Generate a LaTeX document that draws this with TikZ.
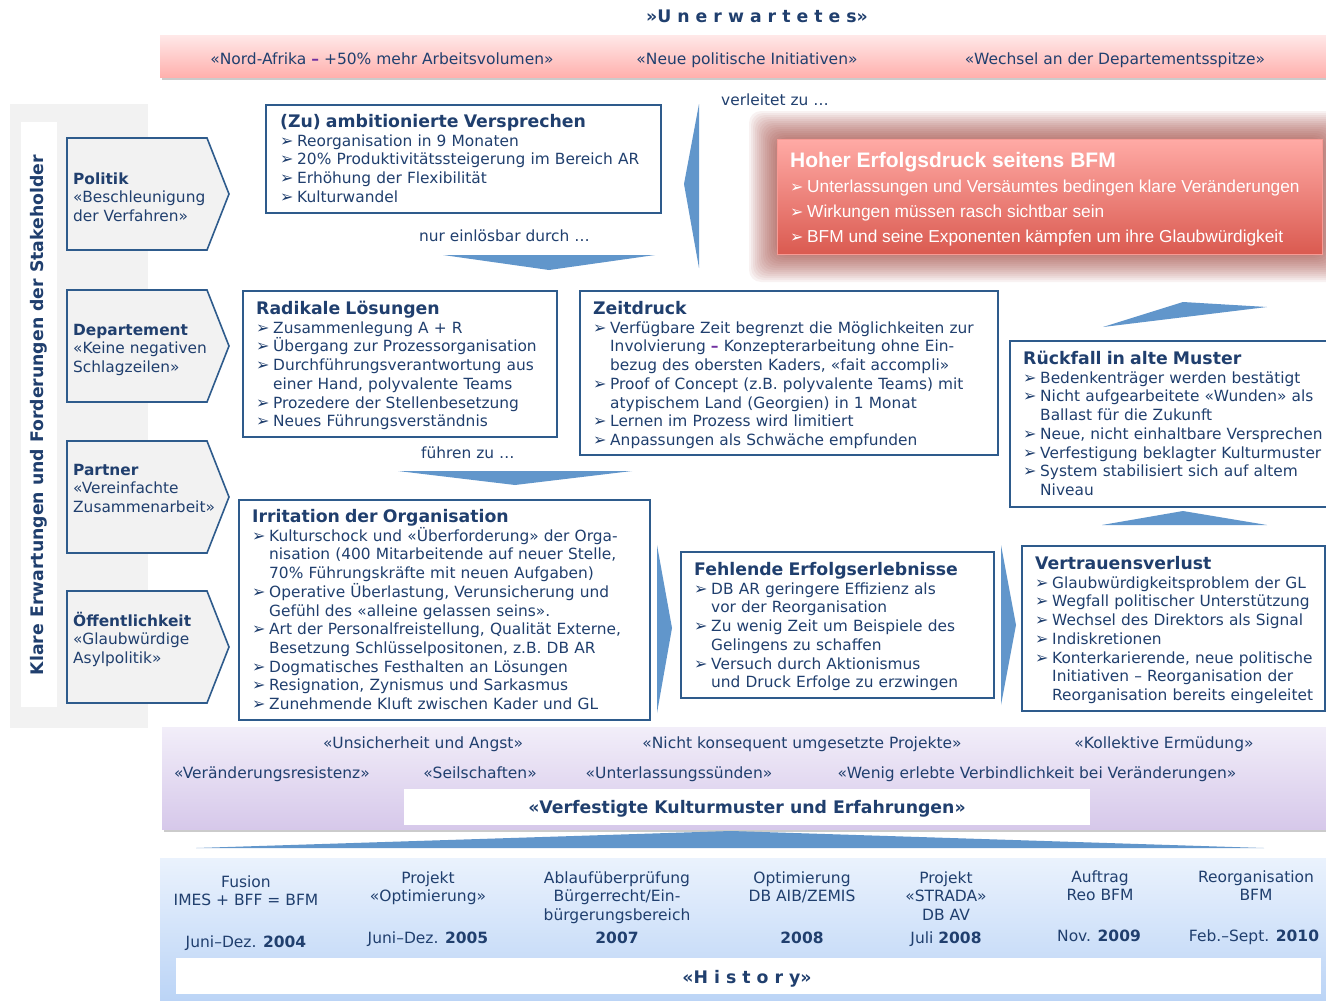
\documentclass[tikz,border=0pt]{standalone}
\usepackage{fontspec}
\setmainfont{DejaVu Sans}
\newfontfamily\arialf{Liberation Sans}
\newfontfamily\dvbul{DejaVu Sans}
\usetikzlibrary{shadows}
\definecolor{txt}{HTML}{203F6E}
\definecolor{bd}{HTML}{2E5B8C}
\definecolor{arr}{HTML}{6196CB}
\definecolor{panel}{HTML}{F2F2F2}
\definecolor{pinkT}{HTML}{FFE8E8}
\definecolor{pinkB}{HTML}{FFB0AD}
\definecolor{purT}{HTML}{F2EEF9}
\definecolor{purB}{HTML}{D6C8EA}
\definecolor{hisT}{HTML}{EAF2FD}
\definecolor{hisB}{HTML}{BBD4F6}
\definecolor{redT}{HTML}{FFAAA5}
\definecolor{redB}{HTML}{DA5A50}
\definecolor{glow}{HTML}{983028}
\definecolor{dashc}{HTML}{7030A0}
\newcommand{\bodyf}{\fontsize{15.4}{18.7}\selectfont\lineskiplimit=-30pt\parindent=0pt}
\newcommand{\bulx}{\makebox[17pt][l]{\raisebox{0pt}{\dvbul\fontsize{16}{16}\selectfont ➢}}}
\newcommand{\itm}[1]{\par\hangindent=17pt\hangafter=1\noindent\bulx #1}
\newcommand{\nl}{\hfil\break}
\newcommand{\ttl}[1]{\noindent\rule{0pt}{17.3pt}{\fontsize{17.3}{18.7}\selectfont\bfseries #1}}
\newcommand{\rdash}{{\color{dashc}\bfseries –}}
\newcommand{\rbul}{\makebox[17pt][l]{\raisebox{0pt}{\dvbul\fontsize{16}{16}\selectfont ➢}}}
\tikzset{
  box/.style={draw=bd, line width=1.8pt, fill=white, anchor=north west, inner sep=0pt},
  blk/.style={anchor=north west, inner sep=0pt, text width=#1, align=left, font=\bodyf, text=txt},
  skt/.style={anchor=north west, inner sep=0pt, align=left, font=\fontsize{15.4}{18.5}\selectfont, text=txt},
  chev/.style={fill=panel, draw=bd, line width=1.6pt},
  arrw/.style={fill=arr, draw=none},
  bandtxt/.style={anchor=base, inner sep=0pt, font=\fontsize{15.5}{18}\selectfont, text=txt},
  histtxt/.style={anchor=north, inner sep=0pt, align=center, font=\fontsize{15.5}{18.5}\selectfont, text=txt},
  yeartxt/.style={anchor=base, inner sep=0pt, font=\fontsize{15.5}{18.5}\selectfont, text=txt},
  lbl/.style={anchor=base west, inner sep=0pt, font=\fontsize{15.4}{18}\selectfont, text=txt},
  shd/.style={drop shadow={shadow xshift=2pt, shadow yshift=-3pt, fill=black!45, opacity=0.45}}
}
\begin{document}
\begin{tikzpicture}[x=1pt,y=-1pt]
\useasboundingbox (0,0) rectangle (1326,1001);
\fill[white] (0,0) rectangle (1326,1001);

% ---------- top band: Unerwartetes
\node[anchor=base, inner sep=0pt, font=\fontsize{17.3}{20}\selectfont\bfseries, text=txt] (unerw) at (757,23) {»U n e r w a r t e t e s»};
\node[shd, top color=pinkT, bottom color=pinkB, anchor=north west, inner sep=0pt, minimum width=1170pt, minimum height=42pt] (pink) at (160,35) {};
\node[bandtxt] (p1) at (382,64) {«Nord-Afrika \rdash{} +50\% mehr Arbeitsvolumen»};
\node[bandtxt] (p2) at (747,64) {«Neue politische Initiativen»};
\node[bandtxt] (p3) at (1115,64) {«Wechsel an der Departementsspitze»};

% ---------- left stakeholder panel
\fill[panel] (10,104) rectangle (148,728);
\fill[white] (21,122) rectangle (57,707);
\node[rotate=90, inner sep=0pt, font=\fontsize{17.3}{20}\selectfont\bfseries, text=txt] (vt) at (39,415) {Klare Erwartungen und Forderungen der Stakeholder};

\draw[chev] (67,138) -- (207,138) -- (229,194) -- (207,250) -- (67,250) -- cycle;
\draw[chev] (67,290) -- (207,290) -- (229,346) -- (207,402) -- (67,402) -- cycle;
\draw[chev] (67,441) -- (207,441) -- (229,497) -- (207,553) -- (67,553) -- cycle;
\draw[chev] (67,591) -- (207,591) -- (229,647) -- (207,703) -- (67,703) -- cycle;
\node[skt] (pol) at (73,168.8) {\rule{0pt}{15.4pt}\textbf{Politik}\\«Beschleunigung\\der Verfahren»};
\node[skt] (dep) at (73,319.8) {\rule{0pt}{15.4pt}\textbf{Departement}\\«Keine negativen\\Schlagzeilen»};
\node[skt] (par) at (73,459.8) {\rule{0pt}{15.4pt}\textbf{Partner}\\«Vereinfachte\\Zusammenarbeit»};
\node[skt] (oef) at (73,610.8) {\rule{0pt}{15.4pt}\textbf{Öffentlichkeit}\\«Glaubwürdige\\Asylpolitik»};

% ---------- red glow box
\foreach \i in {1,...,14}{
  \fill[glow, opacity=0.06, rounded corners=12pt] (777-2*\i,139-2*\i) rectangle (1322+2*\i,254+2*\i);
}
\node[top color=redT, bottom color=redB, draw=redT!80!redB, line width=0.8pt, anchor=north west, inner sep=0pt, minimum width=545pt, minimum height=115pt] (red) at (777,139) {};
\node[anchor=north west, inner sep=0pt, align=left, text=white, font=\arialf\fontsize{17.3}{25}\selectfont] (redT) at (790,146.4)
 {\rule{0pt}{21pt}{\fontsize{21}{25}\selectfont\bfseries Hoher Erfolgsdruck seitens BFM}\\
  \rbul Unterlassungen und Versäumtes bedingen klare Veränderungen\\
  \rbul Wirkungen müssen rasch sichtbar sein\\
  \rbul BFM und seine Exponenten kämpfen um ihre Glaubwürdigkeit};
\node[lbl] (verl) at (721,105) {verleitet zu \ldots};

% ---------- Ambitionierte Versprechen
\node[box, minimum width=395pt, minimum height=108pt] (amb) at (265,104) {};
\node[blk=380pt] (ambT) at (280,110) {\ttl{(Zu) ambitionierte Versprechen}
\itm{Reorganisation in 9 Monaten}
\itm{20\% Produktivitätssteigerung im Bereich AR}
\itm{Erhöhung der Flexibilität}
\itm{Kulturwandel}\par};
\node[lbl] (nur) at (419,241) {nur einlösbar durch \ldots};
\fill[arrw] (443,255) -- (655,255) -- (549,270) -- cycle;
\fill[arrw] (699,104) -- (699,268) -- (684,184) -- cycle;

% ---------- Radikale Loesungen
\node[box, minimum width=314pt, minimum height=146pt] (rad) at (242,290) {};
\node[blk=300pt] (radT) at (256,297) {\ttl{Radikale Lösungen}
\itm{Zusammenlegung A + R}
\itm{Übergang zur Prozessorganisation}
\itm{Durchführungsverantwortung aus\nl einer Hand, polyvalente Teams}
\itm{Prozedere der Stellenbesetzung}
\itm{Neues Führungsverständnis}\par};
\node[lbl] (fuehr) at (421,458) {führen zu \ldots};
\fill[arrw] (398,471) -- (632,471) -- (515,485) -- cycle;

% ---------- Zeitdruck
\node[box, minimum width=418pt, minimum height=164pt] (zeit) at (579,290) {};
\node[blk=410pt] (zeitT) at (593,297) {\ttl{Zeitdruck}
\itm{Verfügbare Zeit begrenzt die Möglichkeiten zur\nl Involvierung \rdash{} Konzepterarbeitung ohne Ein-\nl bezug des obersten Kaders, «fait accompli»}
\itm{Proof of Concept (z.B. polyvalente Teams) mit\nl atypischem Land (Georgien) in 1 Monat}
\itm{Lernen im Prozess wird limitiert}
\itm{Anpassungen als Schwäche empfunden}\par};

% ---------- Rueckfall
\fill[arrw] (1103,327) -- (1183,302) -- (1267,307) -- cycle;
\node[box, minimum width=330pt, minimum height=166pt] (rueck) at (1009,340) {};
\node[blk=320pt] (rueckT) at (1023,347) {\ttl{Rückfall in alte Muster}
\itm{Bedenkenträger werden bestätigt}
\itm{Nicht aufgearbeitete «Wunden» als\nl Ballast für die Zukunft}
\itm{Neue, nicht einhaltbare Versprechen}
\itm{Verfestigung beklagter Kulturmuster}
\itm{System stabilisiert sich auf altem\nl Niveau}\par};
\fill[arrw] (1102,525) -- (1183,511) -- (1267,525) -- cycle;

% ---------- Irritation
\node[box, minimum width=411pt, minimum height=220pt] (irr) at (238,499) {};
\node[blk=400pt] (irrT) at (252,505) {\ttl{Irritation der Organisation}
\itm{Kulturschock und «Überforderung» der Orga-\nl nisation (400 Mitarbeitende auf neuer Stelle,\nl 70\% Führungskräfte mit neuen Aufgaben)}
\itm{Operative Überlastung, Verunsicherung und\nl Gefühl des «alleine gelassen seins».}
\itm{Art der Personalfreistellung, Qualität Externe,\nl Besetzung Schlüsselpositonen, z.B. DB AR}
\itm{Dogmatisches Festhalten an Lösungen}
\itm{Resignation, Zynismus und Sarkasmus}
\itm{Zunehmende Kluft zwischen Kader und GL}\par};
\fill[arrw] (657,545) -- (672,628) -- (657,713) -- cycle;

% ---------- Fehlende Erfolgserlebnisse
\node[box, minimum width=313pt, minimum height=146pt] (fehl) at (680,551) {};
\node[blk=300pt] (fehlT) at (694,558) {\ttl{Fehlende Erfolgserlebnisse}
\itm{DB AR geringere Effizienz als\nl vor der Reorganisation}
\itm{Zu wenig Zeit um Beispiele des\nl Gelingens zu schaffen}
\itm{Versuch durch Aktionismus\nl und Druck Erfolge zu erzwingen}\par};
\fill[arrw] (1001,545) -- (1016,625) -- (1001,705) -- cycle;

% ---------- Vertrauensverlust
\node[box, minimum width=303pt, minimum height=165pt] (vert) at (1021,545) {};
\node[blk=295pt] (vertT) at (1035,552) {\ttl{Vertrauensverlust}
\itm{Glaubwürdigkeitsproblem der GL}
\itm{Wegfall politischer Unterstützung}
\itm{Wechsel des Direktors als Signal}
\itm{Indiskretionen}
\itm{Konterkarierende, neue politische\nl Initiativen – Reorganisation der\nl Reorganisation bereits eingeleitet}\par};

% ---------- purple band
\node[shd, top color=purT, bottom color=purB, anchor=north west, inner sep=0pt, minimum width=1170pt, minimum height=102pt] (pur) at (162,727) {};
\node[bandtxt] (u1) at (423,748) {«Unsicherheit und Angst»};
\node[bandtxt] (u2) at (802,748) {«Nicht konsequent umgesetzte Projekte»};
\node[bandtxt] (u3) at (1164,748) {«Kollektive Ermüdung»};
\node[bandtxt] (u4) at (272,778) {«Veränderungsresistenz»};
\node[bandtxt] (u5) at (480,778) {«Seilschaften»};
\node[bandtxt] (u6) at (679,778) {«Unterlassungssünden»};
\node[bandtxt] (u7) at (1037,778) {«Wenig erlebte Verbindlichkeit bei Veränderungen»};
\node[fill=white, anchor=north west, inner sep=0pt, minimum width=686pt, minimum height=36pt] (verfW) at (404,789) {};
\node[anchor=base, inner sep=0pt, font=\fontsize{17.3}{20}\selectfont\bfseries, text=txt] (verf) at (747,813) {«Verfestigte Kulturmuster und Erfahrungen»};

% ---------- big flat arrow
\fill[arrw] (196,848) -- (731,831) -- (1264,848) -- cycle;

% ---------- history band
\node[top color=hisT, bottom color=hisB, anchor=north west, inner sep=0pt, minimum width=1170pt, minimum height=143pt] (his) at (160,858) {};
\node[fill=white, anchor=north west, inner sep=0pt, minimum width=1145pt, minimum height=36pt] (hisW) at (176,958) {};
\node[anchor=base, inner sep=0pt, font=\fontsize{17.3}{20}\selectfont\bfseries, text=txt] (hist) at (747,983) {«H i s t o r y»};

\node[histtxt] (h1) at (246,871.5) {\rule{0pt}{15.5pt}Fusion\\IMES + BFF = BFM};
\node[histtxt] (h2) at (428,867.5) {\rule{0pt}{15.5pt}Projekt\\«Optimierung»};
\node[histtxt] (h3) at (617,867.5) {\rule{0pt}{15.5pt}Ablaufüberprüfung\\Bürgerrecht/Ein-\\bürgerungsbereich};
\node[histtxt] (h4) at (802,867.5) {\rule{0pt}{15.5pt}Optimierung\\DB AIB/ZEMIS};
\node[histtxt] (h5) at (946,867.5) {\rule{0pt}{15.5pt}Projekt\\«STRADA»\\DB AV};
\node[histtxt] (h6) at (1100,866.5) {\rule{0pt}{15.5pt}Auftrag\\Reo BFM};
\node[histtxt] (h7) at (1256,866.5) {\rule{0pt}{15.5pt}Reorganisation\\BFM};
\node[yeartxt] (y1) at (246,947) {Juni–Dez. \textbf{2004}};
\node[yeartxt] (y2) at (428,943) {Juni–Dez. \textbf{2005}};
\node[yeartxt] (y3) at (617,943) {\textbf{2007}};
\node[yeartxt] (y4) at (802,943) {\textbf{2008}};
\node[yeartxt] (y5) at (946,943) {Juli \textbf{2008}};
\node[yeartxt] (y6) at (1099,941) {Nov. \textbf{2009}};
\node[yeartxt] (y7) at (1254,941) {Feb.–Sept. \textbf{2010}};
\end{tikzpicture}
\end{document}
